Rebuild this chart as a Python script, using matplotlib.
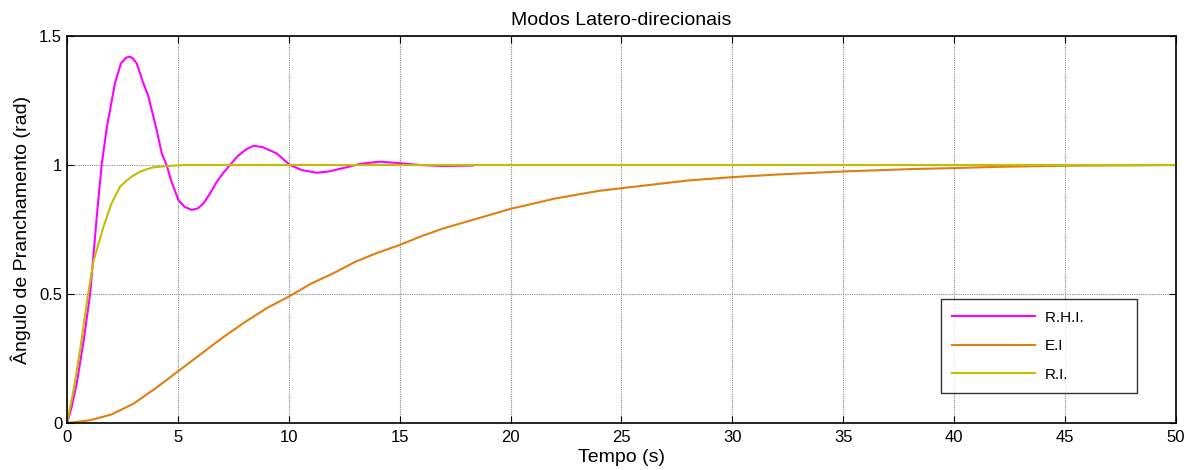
import matplotlib

matplotlib.use("Agg")
import matplotlib.pyplot as plt
import numpy as np

plt.rcParams["font.family"] = ["Liberation Sans", "DejaVu Sans"]

# R.H.I. response (time s, angle rad)
rhi_t = [0, 0.21, 0.44, 0.75, 1.04, 1.34, 1.56, 1.8, 1.94, 2.16, 2.43, 2.65,
         2.8, 2.95, 3.14, 3.44, 3.67, 4.04, 4.27, 4.49, 4.69, 5.02, 5.3, 5.62,
         5.9, 6.15, 6.45, 6.75, 7.05, 7.35, 7.7, 8.1, 8.4, 8.8, 9.45, 10.05,
         10.6, 11.26, 11.8, 12.45, 13.2, 14.1, 15.0, 15.9, 16.95, 18.3]
rhi_y = [0, 0.063, 0.155, 0.32, 0.50, 0.80, 1.0, 1.15, 1.213, 1.317, 1.394,
         1.415, 1.42, 1.415, 1.394, 1.317, 1.265, 1.136, 1.045, 1.0, 0.94,
         0.864, 0.838, 0.826, 0.832, 0.851, 0.89, 0.935, 0.97, 1.0, 1.035,
         1.062, 1.074, 1.07, 1.045, 1.0, 0.98, 0.97, 0.975, 0.988, 1.004,
         1.013, 1.007, 1.0, 0.996, 0.998]

# E.I response
ei_t = [0, 1, 2, 3, 4, 5, 6, 7, 8, 9, 10, 11, 12, 13, 14, 15, 16, 17, 18, 19,
        20, 22, 24, 26, 28, 30, 32, 35, 38, 40, 42, 45, 50]
ei_y = [0, 0.01, 0.033, 0.075, 0.135, 0.20, 0.265, 0.33, 0.39, 0.445, 0.49,
        0.54, 0.58, 0.625, 0.66, 0.69, 0.725, 0.755, 0.78, 0.805, 0.83, 0.87,
        0.90, 0.92, 0.94, 0.953, 0.963, 0.975, 0.984, 0.988, 0.993, 0.997, 1.0]

# R.I. response
ri_t = [0, 0.3, 0.6, 0.95, 1.2, 1.64, 2.0, 2.39, 2.69, 3.0, 3.29, 3.6, 3.89,
        4.5, 5.3, 10, 20, 30, 40, 50]
ri_y = [0, 0.13, 0.29, 0.5, 0.63, 0.76, 0.85, 0.916, 0.94, 0.96, 0.974,
        0.984, 0.991, 0.996, 1.0, 1.0, 1.0, 1.0, 1.0, 1.0]

fig = plt.figure(figsize=(11.93, 4.70), dpi=100)
ax = fig.add_axes([0.0562, 0.1, 0.9295, 0.8234])

ax.plot(rhi_t, rhi_y, color="#ff00ff", lw=1.5, label="R.H.I.          ")
ax.plot(ei_t, ei_y, color="#e07f10", lw=1.5, label="E.I")
ax.plot(ri_t, ri_y, color="#c4bc00", lw=1.5, label="R.I.")

ax.set_xlim(0, 50)
ax.set_ylim(0, 1.5)
ax.set_xticks(np.arange(0, 51, 5))
ax.set_yticks([0, 0.5, 1, 1.5])
ax.set_yticklabels(["0", "0.5", "1", "1.5"])
ax.grid(True, color="#8a8a8a", linestyle=(0, (1, 1)), linewidth=0.8)
ax.tick_params(direction="in", top=True, right=True, length=5,
               labelsize=12, colors="black")
ax.tick_params(axis="x", pad=5)
for sp in ax.spines.values():
    sp.set_linewidth(1.2)

ax.set_title("Modos Latero-direcionais", fontsize=14, pad=8)
ax.set_xlabel("Tempo (s)", fontsize=14, labelpad=3)
ax.set_ylabel("Ângulo de Pranchamento (rad)", fontsize=14, labelpad=6)

leg = ax.legend(loc="lower right", bbox_to_anchor=(0.965, 0.0775),
                borderaxespad=0, fontsize=11, frameon=True, fancybox=False,
                handlelength=5.4, borderpad=0.75, labelspacing=0.95,
                handletextpad=0.65)
leg.get_frame().set_edgecolor("black")
leg.get_frame().set_linewidth(1.0)

fig.savefig("out.png", dpi=100)
